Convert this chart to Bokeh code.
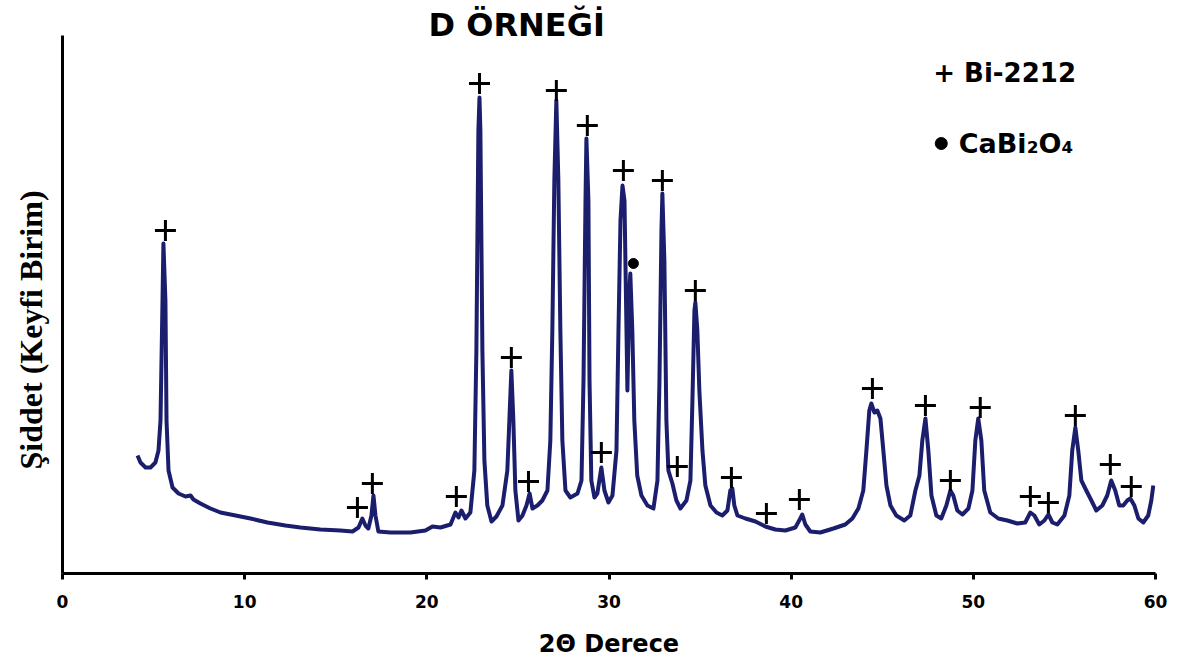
from bokeh.plotting import figure
from bokeh.models import Label, FixedTicker, Range1d, Title
from bokeh.embed import file_html
from bokeh.resources import INLINE

# XRD pattern (2-theta in degrees, intensity in arbitrary units)
two_theta = [4.12, 4.28, 4.56, 4.83, 5.10, 5.27, 5.38, 5.49, 5.54, 5.65, 5.71, 5.82, 6.04, 6.37, 6.75,
             7.03, 7.19, 7.57, 8.12, 8.67, 9.50, 10.32, 11.25, 12.24, 13.06, 14.16, 15.26, 15.92,
             16.25, 16.46, 16.63, 16.79, 16.96, 17.07, 17.18, 17.34, 18.00, 19.10, 19.92, 20.31,
             20.75, 21.30, 21.57, 21.74, 21.90, 22.12, 22.39, 22.61, 22.72, 22.83, 22.89, 22.94,
             23.05, 23.16, 23.32, 23.55, 23.82, 24.15, 24.42, 24.53, 24.64, 24.75, 24.86, 25.03,
             25.25, 25.47, 25.64, 25.80, 26.07, 26.34, 26.62, 26.78, 26.89, 27.00, 27.11, 27.22,
             27.33, 27.44, 27.61, 27.88, 28.27, 28.49, 28.60, 28.71, 28.76, 28.87, 28.93, 29.03,
             29.20, 29.36, 29.58, 29.75, 29.97, 30.19, 30.41, 30.52, 30.63, 30.74, 30.85, 30.96,
             31.01, 31.12, 31.17, 31.28, 31.39, 31.55, 31.78, 32.11, 32.44, 32.66, 32.77, 32.88,
             32.93, 33.04, 33.15, 33.26, 33.48, 33.70, 33.92, 34.25, 34.47, 34.58, 34.69, 34.74,
             34.85, 34.96, 35.13, 35.29, 35.57, 35.90, 36.22, 36.50, 36.66, 36.77, 36.88, 37.05,
             37.49, 38.04, 38.58, 39.13, 39.68, 40.23, 40.50, 40.61, 40.78, 41.05, 41.60, 42.32,
             42.97, 43.36, 43.69, 43.96, 44.13, 44.29, 44.40, 44.57, 44.73, 44.90, 45.06, 45.23,
             45.45, 45.77, 46.21, 46.54, 46.82, 47.04, 47.20, 47.37, 47.53, 47.70, 47.97, 48.24,
             48.52, 48.74, 48.90, 49.12, 49.40, 49.73, 49.95, 50.11, 50.27, 50.44, 50.60, 50.93,
             51.37, 51.87, 52.41, 52.85, 53.13, 53.35, 53.62, 53.90, 54.12, 54.34, 54.61, 55.00,
             55.27, 55.43, 55.60, 55.76, 55.93, 56.20, 56.48, 56.75, 57.08, 57.35, 57.57, 57.79,
             58.01, 58.23, 58.45, 58.62, 58.84, 59.06, 59.33, 59.60, 59.77, 59.88]
intensity = [118, 111, 106, 106, 111, 123, 153, 273, 330, 273, 153, 103, 86, 80, 77,
             78, 74, 70, 65, 61, 58, 55, 51, 48, 46, 44, 43, 42,
             46, 55, 48, 45, 58, 78, 58, 42, 41, 41, 43, 47,
             46, 49, 61, 56, 63, 55, 61, 103, 223, 443, 476, 443,
             223, 113, 68, 52, 57, 68, 103, 153, 203, 153, 83, 53,
             58, 68, 80, 65, 68, 73, 83, 133, 243, 393, 473, 393,
             243, 133, 83, 76, 80, 93, 193, 373, 435, 373, 193, 93,
             76, 80, 106, 83, 71, 78, 123, 243, 353, 388, 373, 243,
             183, 283, 300, 243, 153, 98, 78, 68, 65, 93, 193, 343,
             380, 313, 153, 103, 90, 73, 65, 73, 93, 173, 263, 271,
             243, 183, 123, 88, 68, 61, 58, 63, 83, 85, 68, 58,
             55, 52, 47, 44, 43, 46, 55, 59, 49, 42, 41, 45,
             49, 55, 65, 83, 123, 163, 170, 161, 163, 155, 123, 88,
             68, 58, 53, 58, 83, 98, 133, 155, 123, 78, 58, 55,
             68, 83, 78, 63, 59, 65, 83, 133, 155, 133, 83, 61,
             55, 53, 50, 51, 61, 58, 49, 53, 59, 51, 49, 58,
             78, 123, 146, 123, 93, 83, 73, 63, 68, 78, 93, 83,
             68, 68, 73, 75, 68, 55, 51, 58, 73, 88]

# Bi-2212 reflection markers (+) and CaBi2O4 marker (dot)
bi2212_x = [5.65, 16.19, 17.01, 21.62, 22.89, 24.64, 25.58, 27.11, 28.81, 29.58, 30.79, 32.93, 33.75,
            34.74, 36.72, 38.64, 40.45, 44.46, 47.37, 48.74, 50.38, 53.13, 54.12, 55.60, 57.52, 58.67]
bi2212_y = [343, 66, 90, 77, 490, 216, 92, 483, 448, 121, 403, 393, 107,
            283, 96, 60, 74, 185, 168, 93, 166, 77, 71, 158, 109, 87]
cabi2o4_x = [31.34]
cabi2o4_y = [310]

x_ticks = [0, 10, 20, 30, 40, 50, 60]

title_text = "D ÖRNEĞİ"
x_label = "2Θ Derece"
y_label = "Şiddet (Keyfi Birim)"
legend_bi = "+ Bi-2212"
legend_ca = "CaBi₂O₄"

p = figure(width=1170, height=661, x_range=Range1d(0, 60), y_range=Range1d(0, 538),
           output_backend="svg", toolbar_location=None,
           min_border_left=62, min_border_right=15, min_border_top=35, min_border_bottom=88)
p.grid.visible = False
p.outline_line_color = None
p.background_fill_color = "white"

p.line(two_theta, intensity, line_color="#1b1e6c", line_width=4, line_join="round")
p.scatter(bi2212_x, bi2212_y, marker="cross", size=21, line_width=3, line_color="black")
p.scatter(cabi2o4_x, cabi2o4_y, marker="circle", size=10, fill_color="black", line_color="black")

# x axis
xa = p.xaxis[0]
xa.ticker = FixedTicker(ticks=x_ticks)
xa.axis_line_width = 3
xa.axis_line_color = "black"
xa.major_tick_line_width = 3
xa.major_tick_line_color = "black"
xa.major_tick_out = 6
xa.major_tick_in = 0
xa.minor_tick_line_color = None
xa.minor_tick_out = 0
xa.major_label_text_font = "DejaVu Sans"
xa.major_label_text_font_style = "bold"
xa.major_label_text_font_size = "17px"
xa.major_label_text_color = "black"
xa.major_label_standoff = 15
xa.axis_label = x_label
xa.axis_label_text_font = "DejaVu Sans"
xa.axis_label_text_font_style = "bold"
xa.axis_label_text_font_size = "24px"
xa.axis_label_text_color = "black"
xa.axis_label_standoff = 19

# y axis (line only)
ya = p.yaxis[0]
ya.ticker = FixedTicker(ticks=[])
ya.axis_line_width = 3
ya.axis_line_color = "black"
ya.major_tick_line_color = None
ya.minor_tick_line_color = None
ya.major_tick_out = 0
ya.minor_tick_out = 0
ya.major_label_standoff = 0
ya.major_label_text_color = None

# titles placed in the side panels
p.add_layout(Title(text=title_text, align="left", offset=366, standoff=-20, vertical_align="top",
                   text_font="DejaVu Sans", text_font_style="bold", text_font_size="32px",
                   text_color="black"), "above")
p.add_layout(Title(text=y_label, align="left", offset=104, standoff=24, vertical_align="top",
                   text_font="Liberation Serif", text_font_style="bold", text_font_size="32px",
                   text_color="black"), "left")

# legend
p.add_layout(Label(x=47.8, y=501, text=legend_bi,
                   text_font="DejaVu Sans", text_font_style="bold", text_font_size="26px",
                   text_align="left", text_baseline="middle", text_color="black"))
p.scatter([48.24], [430], marker="circle", size=12, fill_color="black", line_color="black")
p.add_layout(Label(x=49.2, y=430, text=legend_ca,
                   text_font="DejaVu Sans", text_font_style="bold", text_font_size="27px",
                   text_align="left", text_baseline="middle", text_color="black"))

open("out.html", "w").write(file_html(p, INLINE))
